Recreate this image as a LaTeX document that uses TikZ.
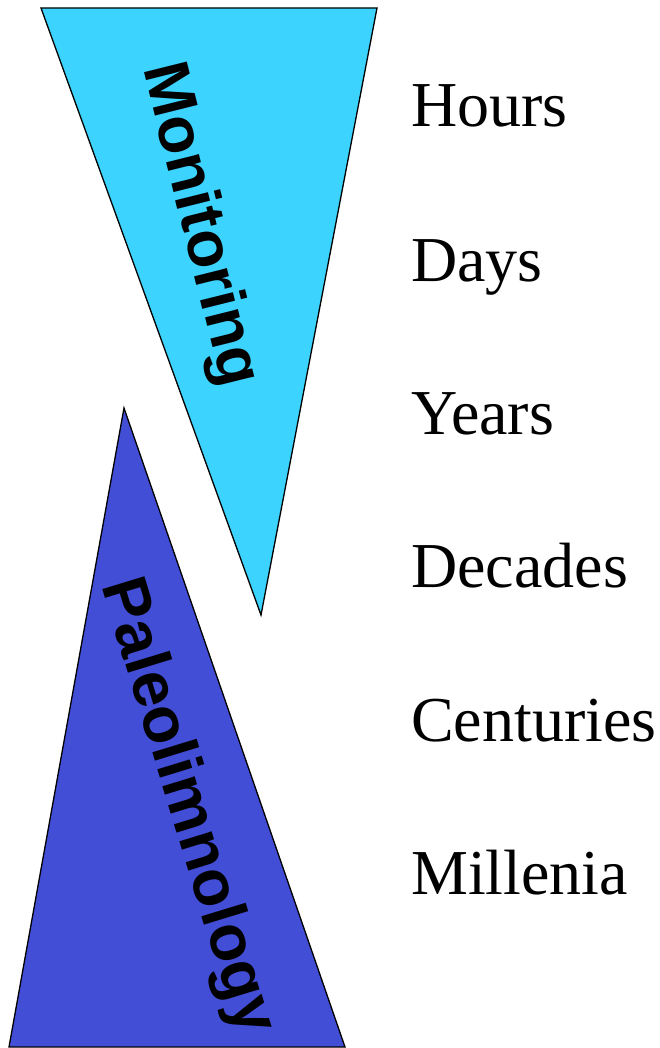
\documentclass[tikz,border=0pt]{standalone}
\usepackage{fontspec}
\setmainfont{Liberation Serif}
\newfontfamily\arialbold[BoldFont={* Bold}]{Liberation Sans}
\definecolor{monicyan}{RGB}{60,212,255}
\definecolor{paleoblue}{RGB}{67,78,214}
\tikzset{
  tri/.style={draw=black, line width=1.3pt, line join=miter},
  vlabel/.style={inner sep=0pt, font=\fontsize{64}{64}\selectfont\arialbold\bfseries},
  scale label/.style={inner sep=0pt, anchor=base west, font=\fontsize{64}{64}\selectfont}
}
\begin{document}
\begin{tikzpicture}[x=1pt,y=-1pt]
\useasboundingbox (0,0) rectangle (660,1048);
% triangles
\coordinate (m1) at (41,8);
\coordinate (m2) at (377,8);
\coordinate (m3) at (261,615);
\coordinate (p1) at (124,408);
\coordinate (p2) at (9,1047);
\coordinate (p3) at (345,1047);
\fill[monicyan] (m1) -- (m2) -- (m3) -- cycle;
\draw[tri] (m1) -- (m2) -- (m3) -- cycle;
\fill[paleoblue] (p1) -- (p2) -- (p3) -- cycle;
\draw[tri] (p1) -- (p2) -- (p3) -- cycle;
% rotated labels
\node[vlabel, rotate=-76] (mon) at (199,225) {Monitoring};
\node[vlabel, rotate=-73] (pal) at (186,807) {Paleolimnology};
% time scale labels
\node[scale label] (hours) at (411,127) {Hours};
\node[scale label] (days) at (411,281) {Days};
\node[scale label] (years) at (411,434) {Years};
\node[scale label] (decades) at (411,587) {Decades};
\node[scale label] (centuries) at (411,741) {Centuries};
\node[scale label] (millenia) at (411,894) {Millenia};
\end{tikzpicture}
\end{document}
